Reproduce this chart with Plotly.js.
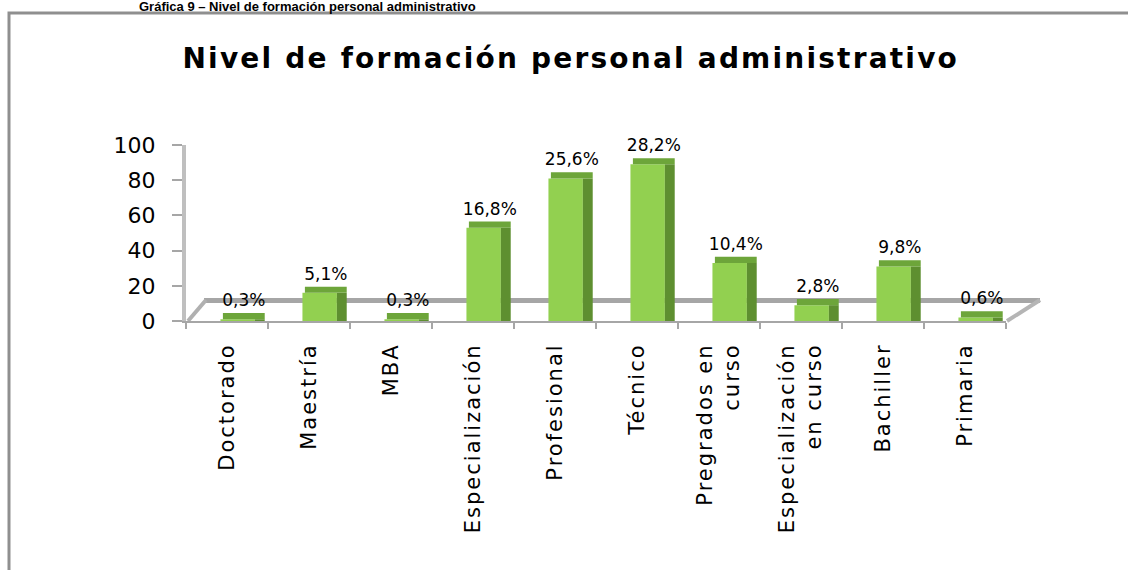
<!DOCTYPE html>
<html>
<head>
<meta charset="utf-8">
<script src="https://cdn.plot.ly/plotly-3.0.1.min.js"></script>
<style>
  html, body { margin: 0; padding: 0; background: #ffffff; }
  #chart { width: 1128px; height: 570px; }
  .xtick text { letter-spacing: 2px; }
  .textpoint text { letter-spacing: 1px; }
  .gtitle { letter-spacing: 2.2px; }
</style>
</head>
<body>
<div id="chart"></div>
<script>
// ---- data ----
const categories = [
  "Doctorado", "Maestría", "MBA", "Especialización", "Profesional",
  "Técnico", "Pregrados en<br>curso", "Especialización<br>en curso", "Bachiller", "Primaria"
];
const counts = [1, 16, 1, 53, 81, 89, 33, 9, 31, 2];
const pctLabels = ["0,3%", "5,1%", "0,3%", "16,8%", "25,6%", "28,2%", "10,4%", "2,8%", "9,8%", "0,6%"];
const yTicks = [0, 20, 40, 60, 80, 100];

const chartTitle = "Nivel de formación personal administrativo";
const captionText = "Gráfica 9 – Nivel de formación personal administrativo";

// ---- style ----
const topDepth = counts.map(() => 3.5); // visual thickness of the 3D top face

const front = {
  type: "bar", x: categories, y: counts,
  offset: -0.08, width: 0.42,
  marker: { color: "#92D050", line: { width: 0 } },
  hoverinfo: "x+y", showlegend: false
};
const side = {
  type: "bar", x: categories, y: counts,
  offset: 0.34, width: 0.12,
  marker: { color: "#5E8F30", line: { width: 0 } },
  hoverinfo: "skip", showlegend: false
};
const topFace = {
  type: "bar", x: categories, y: topDepth, base: counts,
  offset: -0.05, width: 0.51,
  marker: { color: "#6DA53A", line: { width: 0 } },
  text: pctLabels, textposition: "outside", cliponaxis: false, constraintext: "none",
  textfont: { family: "DejaVu Sans", size: 17, color: "#000000" },
  hoverinfo: "skip", showlegend: false
};

// pixel helpers for decorative frame (plot area: x 186..1006, y 145..321)
const L = 186, R = 1006, T = 145, B = 321;
const px = v => (v - L) / (R - L);
const py = v => (B - v) / (B - T);

const layout = {
  width: 1128, height: 570,
  margin: { l: L, r: 1128 - R, t: T, b: 570 - B, pad: 0 },
  paper_bgcolor: "#ffffff", plot_bgcolor: "rgba(0,0,0,0)",
  barmode: "overlay",
  title: {
    text: chartTitle,
    font: { family: "DejaVu Sans", size: 28, color: "#000000", weight: "bold" },
    xref: "container", x: 0.506, xanchor: "center",
    yref: "container", y: 1 - 58 / 570, yanchor: "middle"
  },
  xaxis: {
    type: "category",
    range: [-0.5, categories.length - 0.5],
    showline: true, linecolor: "#A6A6A6", linewidth: 2,
    ticks: "outside", tickson: "boundaries", ticklen: 6, tickcolor: "#A6A6A6", tickwidth: 2,
    tickangle: -90,
    tickfont: { family: "DejaVu Sans", size: 21, color: "#000000" },
    ticklabelstandoff: 12,
    showgrid: false, zeroline: false, fixedrange: true
  },
  yaxis: {
    range: [0, 100],
    tickmode: "array", tickvals: yTicks, ticktext: yTicks.map(String),
    showline: true, linecolor: "#BFBFBF", linewidth: 4,
    ticks: "outside", ticklen: 10, tickcolor: "#A6A6A6", tickwidth: 2,
    tickfont: { family: "DejaVu Sans", size: 22, color: "#000000" },
    ticklabelstandoff: 12,
    showgrid: false, zeroline: false, fixedrange: true
  },
  shapes: [
    // outer frame
    { type: "rect", xref: "paper", yref: "paper", layer: "below",
      x0: px(9), x1: px(1140), y0: py(590), y1: py(13),
      line: { color: "#8F8F8F", width: 3 }, fillcolor: "rgba(0,0,0,0)" },
    // back edge of floor
    { type: "line", xref: "paper", yref: "paper", layer: "below",
      x0: px(204), x1: px(1040), y0: py(300.5), y1: py(300.5),
      line: { color: "#A6A6A6", width: 5 } },
    // left floor diagonal
    { type: "line", xref: "paper", yref: "paper", layer: "below",
      x0: px(188), x1: px(206), y0: py(321), y1: py(300),
      line: { color: "#B0B0B0", width: 4 } },
    // right floor diagonal
    { type: "line", xref: "paper", yref: "paper", layer: "below",
      x0: px(1007), x1: px(1040), y0: py(321), y1: py(300),
      line: { color: "#B5B5B5", width: 4 } }
  ],
  annotations: [
    { text: "<b>" + captionText + "</b>", xref: "paper", yref: "paper",
      x: px(137), xanchor: "left", y: py(6), yanchor: "middle", showarrow: false,
      font: { family: "Liberation Sans", size: 13, color: "#000000" } }
  ],
  showlegend: false
};

Plotly.newPlot("chart", [front, side, topFace], layout, { displayModeBar: false, staticPlot: true });
</script>
</body>
</html>
